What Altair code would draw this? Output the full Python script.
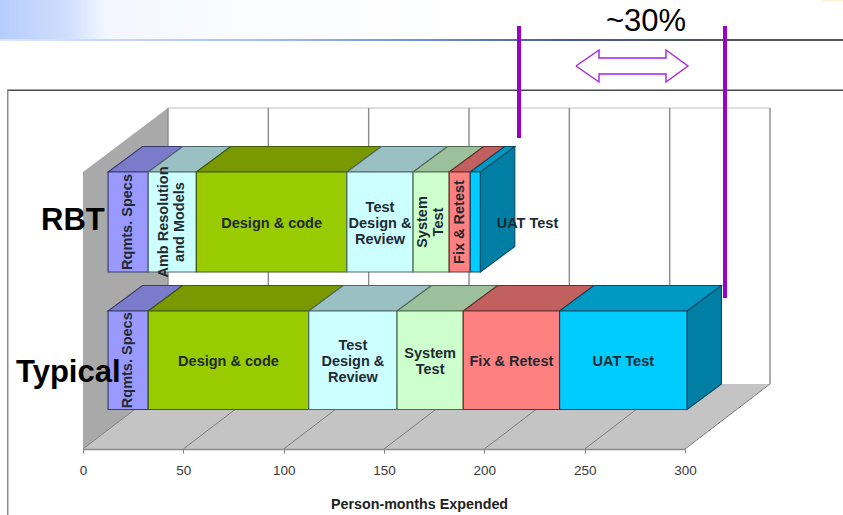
import altair as alt
import pandas as pd

FONT = "Liberation Sans"

# Person-months per activity, stacked left to right
rbt_phases = ["Rqmts. Specs", "Amb Resolution\nand Models", "Design & code",
              "Test\nDesign &\nReview", "System\nTest", "Fix & Retest", "UAT Test"]
rbt_months = [20, 24, 75, 33, 18, 10.5, 5]
rbt_rotated = [True, True, False, False, True, True, False]

typical_phases = ["Rqmts. Specs", "Design & code", "Test\nDesign &\nReview",
                  "System\nTest", "Fix & Retest", "UAT Test"]
typical_months = [20, 80, 44, 33, 48, 63.5]
typical_rotated = [True, False, False, False, False, False]

axis_ticks = [0, 50, 100, 150, 200, 250, 300]

# Face colours per activity: front, top, edge
palette = {
    "Rqmts. Specs": ("#9999ff", "#7b7bcc", "#3d3d70"),
    "Amb Resolution\nand Models": ("#ccffff", "#9bc0c4", "#4f6a6a"),
    "Design & code": ("#99cc00", "#7a9900", "#3f5a10"),
    "Test\nDesign &\nReview": ("#ccffff", "#9bc0c4", "#4f6a6a"),
    "System\nTest": ("#ccffcc", "#9cc09c", "#4f6f4f"),
    "Fix & Retest": ("#ff8080", "#c26060", "#6a3030"),
    "UAT Test": ("#00ccff", "#0099c2", "#0a4a66"),
}

# Plot frame and projection of the 3-D box
LEFT, RIGHT, FLOOR, TOP = 83, 685, 449, 108
UNIT = (RIGHT - LEFT) / 300
LINE_HEIGHT = 16


def ux(px):
    return (px - LEFT) / UNIT


def uy(py):
    return FLOOR - py


WALL_DX = ux(LEFT + 85)
WALL_DY = 65
BAR_BASE = 12.5
BAR_DX = ux(LEFT + 34.5)
BAR_DY = 25.5
bars = {
    "RBT": (uy(172), uy(272), rbt_phases, rbt_months, rbt_rotated),
    "Typical": (uy(311), uy(409.5), typical_phases, typical_months, typical_rotated),
}
RBT_UAT_SHIFT = 26

front, top, side, labels = [], [], [], []
for name, (hi, lo, phases, months, rotated) in bars.items():
    start = BAR_BASE
    for phase, m, rot in zip(phases, months, rotated):
        end = start + m
        fc, tc, ec = palette[phase]
        fid = f"{name}/{phase}"
        front.append(dict(x=start, x2=end, y=lo, y2=hi, fill=fc, edge=ec))
        top += [
            dict(face=fid, x=start, x2=end, y=hi, fill=tc, edge=ec),
            dict(face=fid, x=start + BAR_DX, x2=end + BAR_DX, y=hi + BAR_DY, fill=tc, edge=ec),
        ]
        shift = RBT_UAT_SHIFT if (name, phase) == ("RBT", "UAT Test") else 0
        # Vega anchors a wrapped label on its first line, so centre the block by hand
        spread = phase.count("\n") * LINE_HEIGHT / 2
        tx = (start + end) / 2 + shift - (spread / UNIT if rot else 0)
        ty = (hi + lo) / 2 + (0 if rot else spread - 1.5)
        labels.append(dict(x=tx, y=ty, text=phase, rotated=rot))
        start = end
    sid = f"{name}/side"
    side += [
        dict(face=sid, x=start, y=lo, y2=hi, fill="#007ea3", edge="#0a4a66"),
        dict(face=sid, x=start + BAR_DX, y=lo + BAR_DY, y2=hi + BAR_DY, fill="#007ea3", edge="#0a4a66"),
    ]

x_scale = alt.Scale(domain=[0, 300], nice=False, zero=False)
y_scale = alt.Scale(domain=[0, FLOOR - TOP], nice=False, zero=False)
value_axis = alt.Axis(
    values=axis_ticks, title="Person-months Expended", grid=False, zindex=1,
    domainColor="#8a8a8a", domainWidth=1.4, tickColor="#7d7d7d", tickSize=4,
    labelFont=FONT, labelFontSize=13.5, labelColor="#3a3a3a", labelPadding=10,
    labelFlush=False, labelOverlap=False, labelBound=False,
    titleFont=FONT, titleFontSize=14.3, titleFontWeight="bold", titleColor="#222222",
    titleX=336, titleY=59, titleBaseline="alphabetic", labelAngle=0,
)
X = alt.X("x:Q", scale=x_scale, axis=value_axis)
Y = alt.Y("y:Q", scale=y_scale, axis=None)
FILL = alt.Fill("fill:N", scale=None, legend=None)
EDGE = alt.Stroke("edge:N", scale=None, legend=None)


def strip(px0, px1, py0, py1, colour):
    """A rectangle given in screen terms, for the page furniture."""
    d = pd.DataFrame([dict(x=ux(px0), x2=ux(px1), y=uy(py1), y2=uy(py0))])
    return alt.Chart(d).mark_rect(color=colour).encode(x=X, x2="x2:Q", y=Y, y2="y2:Q")


def polyline(points, colour, width):
    d = pd.DataFrame([dict(x=ux(a), y=uy(b), i=i) for i, (a, b) in enumerate(points)])
    return alt.Chart(d).mark_line(color=colour, strokeWidth=width, strokeJoin="miter").encode(
        x=X, y=Y, order="i:Q")


banner = strip(0, 843, 0, 39, alt.Gradient(
    gradient="linear", x1=0, x2=1, y1=0.5, y2=0.5,
    stops=[alt.GradientStop(color="#b5cdfc", offset=0),
           alt.GradientStop(color="#d0defd", offset=0.08),
           alt.GradientStop(color="#f2f6ff", offset=0.125),
           alt.GradientStop(color="#fbfcff", offset=0.3),
           alt.GradientStop(color="#ffffff", offset=0.6)]))
banner_rule = strip(0, 843, 39, 41, alt.Gradient(
    gradient="linear", x1=0, x2=1, y1=0.5, y2=0.5,
    stops=[alt.GradientStop(color="#dce7fc", offset=0),
           alt.GradientStop(color="#a9c0f4", offset=0.3),
           alt.GradientStop(color="#6f8edc", offset=0.5),
           alt.GradientStop(color="#47598f", offset=0.68),
           alt.GradientStop(color="#555555", offset=0.85),
           alt.GradientStop(color="#555555", offset=1)]))
corner_tint = strip(822, 843, 0, 1.5, "#f8f4da")
frame_top = strip(7, 843, 89.5, 91, "#4a4a4a")
frame_left = strip(7, 8.5, 90, 515, "#8c8c8c")

# Box: left wall, floor, back wall grid
left_wall = alt.Chart(pd.DataFrame([
    dict(x=0, y=0, y2=uy(172)),
    dict(x=WALL_DX, y=WALL_DY, y2=FLOOR - TOP),
])).mark_area(color="#a9a9a9", orient="vertical").encode(x=X, y=Y, y2="y2:Q")

floor = alt.Chart(pd.DataFrame([
    dict(x=0, x2=300, y=0),
    dict(x=WALL_DX, x2=300 + WALL_DX, y=WALL_DY),
])).mark_area(color="#c4c4c4", orient="horizontal").encode(x=X, x2="x2:Q", y=Y)

back_grid = alt.Chart(pd.DataFrame(
    [dict(x=t + WALL_DX, y=WALL_DY, y2=FLOOR - TOP) for t in axis_ticks]
)).mark_rule(color="#8a8a8a", strokeWidth=1.4).encode(x=X, y=Y, y2="y2:Q")

back_top = alt.Chart(pd.DataFrame([
    dict(x=WALL_DX, x2=300 + WALL_DX, y=FLOOR - TOP)
])).mark_rule(color="#d4d4d4", strokeWidth=1.5).encode(x=X, x2="x2:Q", y=Y)

floor_grid = alt.Chart(pd.DataFrame(
    [r for t in axis_ticks for r in (dict(x=t, y=0, t=t), dict(x=t + WALL_DX, y=WALL_DY, t=t))]
)).mark_line(color="#7d7d7d", strokeWidth=1).encode(x=X, y=Y, detail="t:N")

# Stacked blocks
front_faces = alt.Chart(pd.DataFrame(front)).mark_rect(strokeWidth=1.2).encode(
    x=X, x2="x2:Q", y=Y, y2="y2:Q", fill=FILL, stroke=EDGE)
top_faces = alt.Chart(pd.DataFrame(top)).mark_area(orient="horizontal", strokeWidth=1.1).encode(
    x=X, x2="x2:Q", y=Y, fill=FILL, stroke=EDGE, detail="face:N")
side_faces = alt.Chart(pd.DataFrame(side)).mark_area(orient="vertical", strokeWidth=1.1).encode(
    x=X, y=Y, y2="y2:Q", fill=FILL, stroke=EDGE, detail="face:N")

label_df = pd.DataFrame(labels)


def phase_text(frame, angle):
    return alt.Chart(frame).mark_text(
        font=FONT, fontSize=14.5, fontWeight="bold", color="#1f2a33", angle=angle,
        lineBreak="\n", lineHeight=LINE_HEIGHT, align="center", baseline="middle",
    ).encode(x=X, y=Y, text="text:N")


flat_text = phase_text(label_df[~label_df.rotated], 0)
turned_text = phase_text(label_df[label_df.rotated], 270)


def caption(text, px, py, size, weight, align="left"):
    d = pd.DataFrame([dict(x=ux(px), y=uy(py), text=text)])
    return alt.Chart(d).mark_text(
        font=FONT, fontSize=size, fontWeight=weight, color="#000000",
        align=align, baseline="alphabetic",
    ).encode(x=X, y=Y, text="text:N")


rbt_name = caption("RBT", 41, 230, 31, "bold")
typical_name = caption("Typical", 16, 382, 31, "bold")
saving = caption("~30%", 646, 31, 31, "normal", "center")

# Difference markers
marker_df = pd.DataFrame([
    dict(x=ux(519), y=uy(138), y2=uy(26)),
    dict(x=ux(725), y=uy(298), y2=uy(26)),
])
markers = alt.Chart(marker_df).mark_rule(color="#9900cc", strokeWidth=4).encode(x=X, y=Y, y2="y2:Q")

arrow = polyline([
    (576, 66), (599, 50), (599, 58), (666, 58), (666, 50), (688, 66),
    (666, 82), (666, 74), (599, 74), (599, 82), (576, 66),
], "#a61fe6", 1.4)

chart = alt.layer(
    banner, banner_rule, corner_tint, frame_top, frame_left,
    left_wall, floor, back_top, back_grid, floor_grid,
    top_faces, side_faces, front_faces,
    flat_text, turned_text,
    rbt_name, typical_name, saving, markers, arrow,
).properties(
    width=RIGHT - LEFT,
    height=FLOOR - TOP,
    autosize=alt.AutoSizeParams(type="none"),
    padding={"left": LEFT, "top": TOP, "right": 843 - RIGHT, "bottom": 515 - FLOOR},
    background="white",
).configure_view(stroke=None)

chart.save("out.html", embed_options={"renderer": "svg", "actions": False})
